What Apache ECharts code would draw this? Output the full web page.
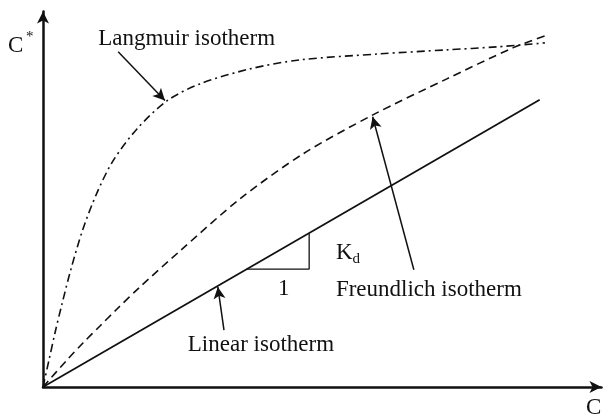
<!DOCTYPE html>
<html>
<head>
<meta charset="utf-8">
<title>Sorption isotherms</title>
<script src="https://cdn.jsdelivr.net/npm/echarts@6/dist/echarts.min.js"></script>
<style>
  html, body { margin: 0; padding: 0; background: #fff; }
  #chart { width: 606px; height: 415px; }
</style>
</head>
<body>
<div id="chart"></div>
<script>
// Sorbed concentration C* against solution concentration C (arbitrary units)
const linearIsotherm = [[0, 0], [8.92, 7.72]];
const freundlichIsotherm = [
  [0, 0], [0.431, 0.726], [0.718, 1.183], [1.023, 1.640], [1.329, 2.097],
  [1.741, 2.688], [2.460, 3.656], [3.537, 5.054], [4.668, 6.263],
  [5.925, 7.312], [7.253, 8.280], [8.438, 9.113], [9.013, 9.435]
];
const langmuirIsotherm = [
  [0, 0], [0.108, 0.726], [0.215, 1.452], [0.341, 2.231], [0.503, 3.172],
  [0.718, 4.247], [0.969, 5.215], [1.257, 6.075], [1.688, 6.935],
  [2.226, 7.688], [2.819, 8.145], [3.716, 8.548], [4.614, 8.790],
  [6.050, 8.952], [7.253, 9.059], [8.151, 9.140], [9.013, 9.247]
];
// Slope triangle on the linear isotherm (run of 1, rise of Kd)
const slopeTriangle = [[3.66, 3.17], [4.78, 3.17], [4.78, 4.13]];

// Callout arrows: [from, to]
const calloutArrows = [
  [[1.35, 9.01], [2.19, 7.70]],
  [[6.66, 3.15], [5.92, 7.26]],
  [[3.25, 1.53], [3.14, 2.69]]
];
// Callout texts: [text, x, y, fontSize]
const calloutTexts = [
  ['Langmuir isotherm', 0.99, 9.35, 23],
  ['Freundlich isotherm', 5.26, 2.62, 23],
  ['Linear isotherm', 2.60, 1.13, 23],
  ['K', 5.26, 3.59, 23],
  ['d', 5.56, 3.45, 15],
  ['1', 4.22, 2.64, 23]
];

const serif = '"Liberation Serif", "Times New Roman", serif';
const ink = '#111';

const chart = echarts.init(document.getElementById('chart'), null, { renderer: 'canvas' });

const axisCommon = {
  type: 'value', min: 0,
  axisTick: { show: false }, axisLabel: { show: false }, splitLine: { show: false },
  axisLine: {
    show: true, symbol: ['none', 'arrow'], symbolSize: [9, 12],
    lineStyle: { color: ink, width: 2.5 }
  }
};

chart.setOption({
  animation: false,
  backgroundColor: '#fff',
  grid: { left: 43, right: 4.5, top: 11.5, bottom: 28 },
  xAxis: Object.assign({ max: 10.03 }, axisCommon),
  yAxis: Object.assign({ max: 10.09 }, axisCommon),
  series: [
    {
      name: 'Linear', type: 'line', data: linearIsotherm, showSymbol: false, silent: true,
      lineStyle: { color: ink, width: 1.8, type: 'solid' },
      markLine: {
        silent: true, symbol: ['none', 'arrow'], symbolSize: [9, 12],
        label: { show: false },
        lineStyle: { color: ink, width: 1.5, type: 'solid' },
        data: calloutArrows.map(a => [{ coord: a[0] }, { coord: a[1] }])
      }
    },
    {
      name: 'Slope', type: 'line', data: slopeTriangle, showSymbol: false, silent: true,
      lineStyle: { color: ink, width: 1.3 }
    },
    {
      name: 'Freundlich', type: 'line', data: freundlichIsotherm, showSymbol: false, silent: true,
      smooth: 0.3,
      lineStyle: { color: ink, width: 1.6, type: [8, 5] }
    },
    {
      name: 'Langmuir', type: 'line', data: langmuirIsotherm, showSymbol: false, silent: true,
      smooth: 0.3,
      lineStyle: { color: ink, width: 1.6, type: [8, 4, 2, 4] }
    }
  ]
});

// Text placed through the axes' own scales
const graphics = calloutTexts.map(t => {
  const p = chart.convertToPixel({ gridIndex: 0 }, [t[1], t[2]]);
  return {
    type: 'text', x: p[0], y: p[1], silent: true,
    style: { text: t[0], font: t[3] + 'px ' + serif, fill: ink, textAlign: 'left', textVerticalAlign: 'middle' }
  };
});
// Axis titles
graphics.push(
  { type: 'text', x: 8, y: 46, style: { text: 'C', font: '23px ' + serif, fill: ink, textVerticalAlign: 'middle' } },
  { type: 'text', x: 26, y: 37, style: { text: '*', font: '15px ' + serif, fill: ink, textVerticalAlign: 'middle' } },
  { type: 'text', x: 586, y: 408, style: { text: 'C', font: '23px ' + serif, fill: ink, textVerticalAlign: 'middle' } }
);
chart.setOption({ graphic: graphics });
</script>
</body>
</html>
